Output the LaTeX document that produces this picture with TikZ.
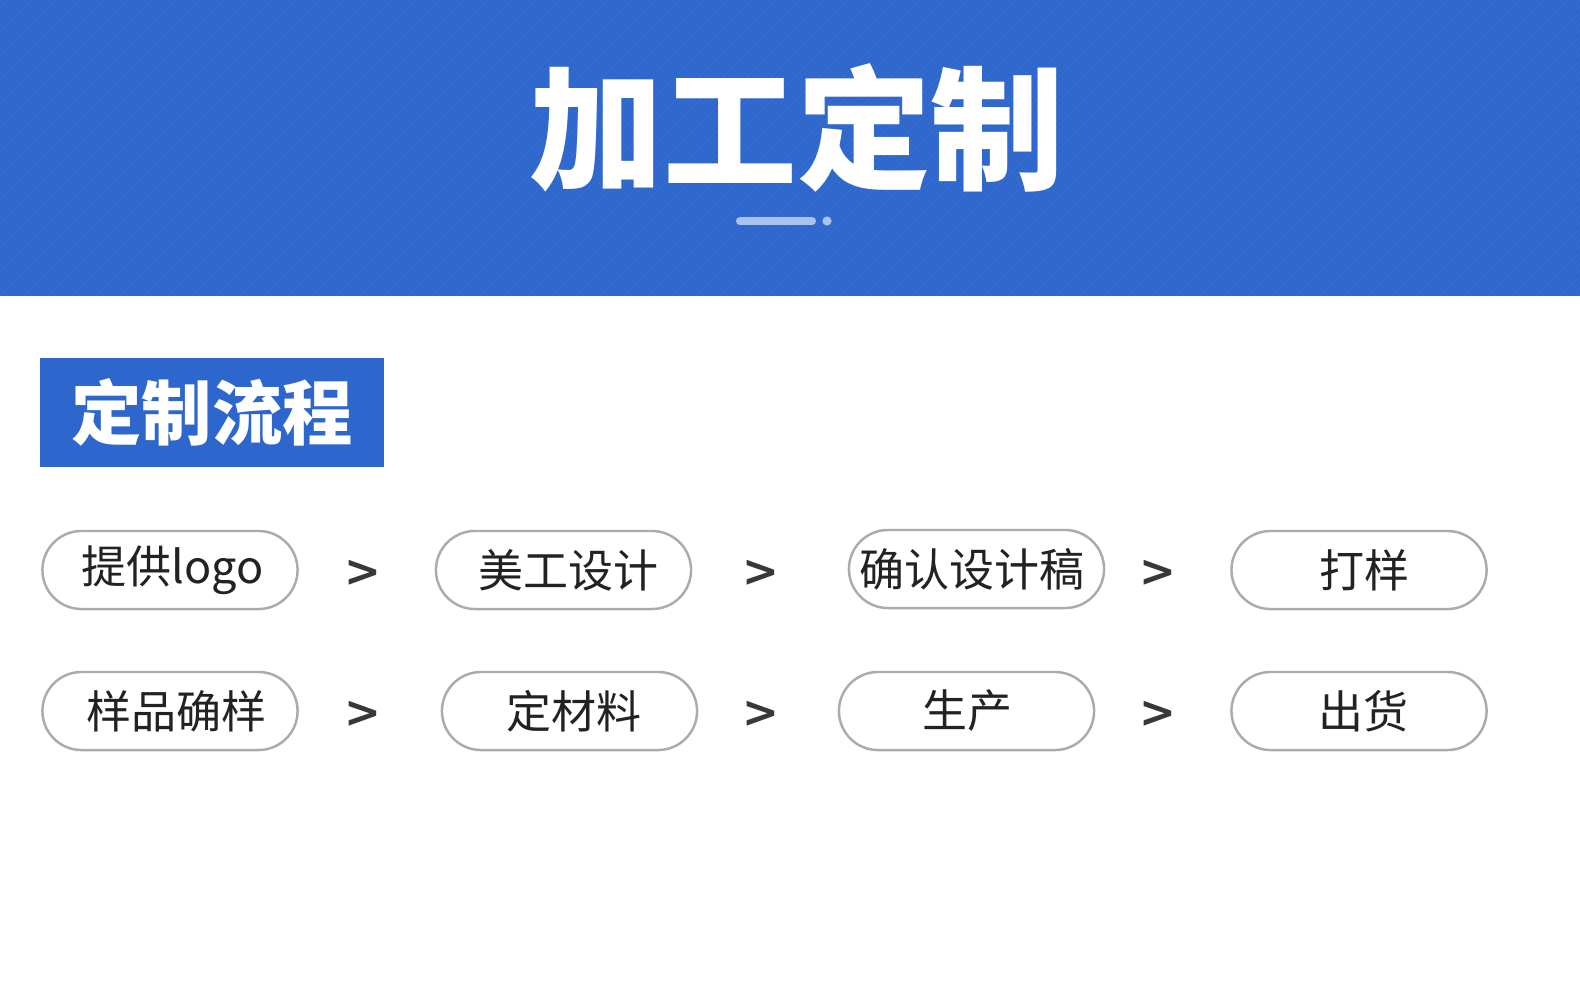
\documentclass[tikz,border=0pt]{standalone}
\usepackage{fontspec}
\newfontfamily\cjk{Noto Sans CJK SC}
\newfontfamily\gtfont{DejaVu Sans}
\usetikzlibrary{positioning,shapes.misc}
\definecolor{headblue}{HTML}{2D66CC}
\definecolor{barblue}{HTML}{A9C3EE}
\definecolor{pillgray}{HTML}{ABABAB}
\definecolor{txtdark}{HTML}{222222}

\begin{document}
\begin{tikzpicture}[x=0.01cm,y=-0.01cm,
	pill/.style={draw=pillgray, line width=0.7pt, rounded rectangle, minimum width=2.55cm, minimum height=0.78cm, inner sep=0pt, text=txtdark, font=\cjk\fontsize{12.8}{14}\selectfont},
	gt/.style={text=txtdark!90, font=\gtfont\bfseries\fontsize{12.5}{13}\selectfont}
	]
	\useasboundingbox (0,0) rectangle (1580,1000);
	% header band
	\fill[headblue] (0,0) rectangle (1580,296);
	\begin{scope}
		\clip (0,0) rectangle (1580,296);
		\foreach \i in {-300,-294,...,1580}{
			\draw[white, opacity=0.035, line width=0.5pt] (\i,296) -- ++(296,-296);
		}
	\end{scope}
	\node[text=white, font=\cjk\bfseries\fontsize{38}{40}\selectfont] (title) at (797,128) {加工定制};
	\draw[barblue, line width=2.3pt, line cap=round] (740,221) -- (812,221);
	\fill[barblue] (827,221) circle (4.6);
	% section label
	\node[fill=headblue, minimum width=3.44cm, minimum height=1.09cm, inner sep=0pt, text=white, font=\cjk\bfseries\fontsize{20}{22}\selectfont] (sect) at (212,412.5) {定制流程};
	% steps (\k nudges the text inside its pill)
	\foreach \n/\cx/\cy/\k/\t in {a/170/570/1.5pt/提供logo, b/563.5/570/2.8pt/美工设计, c/976.5/569/-2.8pt/确认设计稿, d/1359/570/3.2pt/打样,
		e/170/711/3.8pt/样品确样, f/569.5/711/2.8pt/定材料, g/966.5/711/0.5pt/生产, h/1359/711/2.8pt/出货}{
		\node[pill] (\n) at (\cx,\cy) {\hspace*{\k}\t};
	}
	\foreach \n/\cx/\cy in {ab/363/573, bc/761/573, cd/1158/573, ef/363/714, fg/761/714, gh/1158/714}{
		\node[gt] (\n) at (\cx,\cy) {>};
	}
\end{tikzpicture}
\end{document}
